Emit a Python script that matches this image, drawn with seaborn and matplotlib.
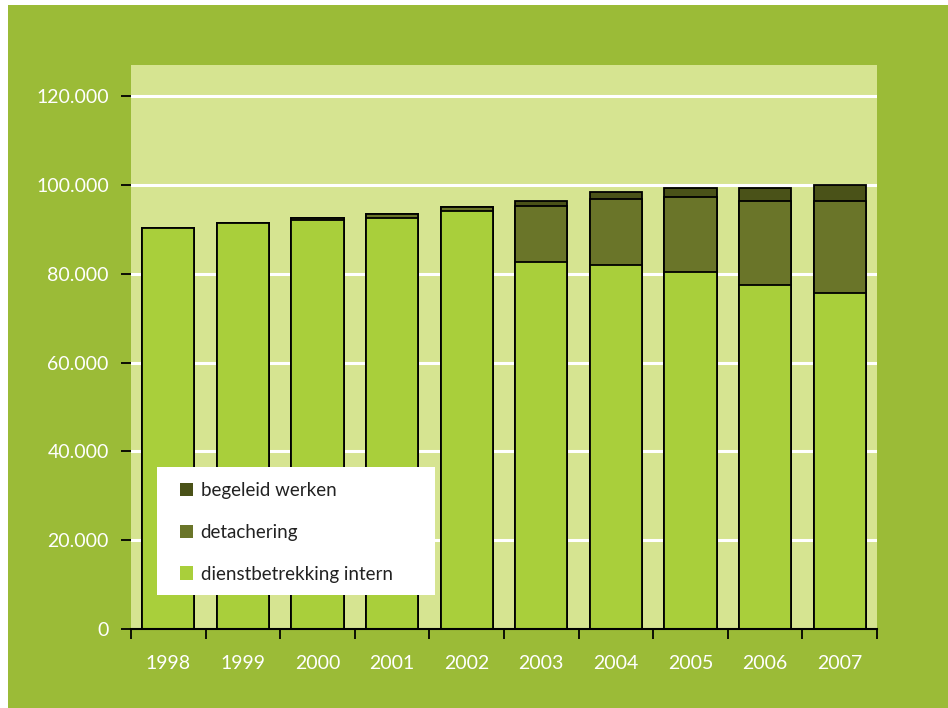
import matplotlib
matplotlib.use("Agg")
import matplotlib.pyplot as plt
import seaborn as sns
import numpy as np
import pandas as pd
from matplotlib.patches import Rectangle, Patch
from matplotlib.ticker import FuncFormatter, FixedLocator

years = ["1998", "1999", "2000", "2001", "2002", "2003", "2004", "2005", "2006", "2007"]
dienstbetrekking = [90300, 91500, 92100, 92450, 94100, 82700, 81900, 80300, 77500, 75650]
detachering = [0, 0, 500, 1100, 950, 12600, 15000, 16950, 18900, 20800]
begeleid = [0, 0, 0, 0, 0, 1150, 1600, 2100, 2950, 3600]
labels = ["begeleid werken", "detachering", "dienstbetrekking intern"]
yticks = [0, 20000, 40000, 60000, 80000, 100000, 120000]

C_BG = "#9bbb37"
C_AX = "#d6e491"
C_DIENST = "#a9cf3b"
C_DETACH = "#6a7529"
C_BEG = "#4a5218"

plt.rcParams["font.family"] = ["Lato", "DejaVu Sans"]

df = pd.DataFrame({"year": years,
                   "dienst": dienstbetrekking,
                   "detach": detachering,
                   "beg": begeleid})
df["mid"] = df["dienst"] + df["detach"]
df["total"] = df["mid"] + df["beg"]

W, H = 948, 708
fig = plt.figure(figsize=(W / 100, H / 100), dpi=100, facecolor="white")
bgp = Rectangle((8 / W, 0), 1 - 8 / W, 1 - 5 / H, transform=fig.transFigure,
                facecolor=C_BG, edgecolor="none", zorder=-10)
fig.patches.append(bgp)

ax = fig.add_axes([131 / W, (H - 629) / H, 746 / W, 564 / H])
ax.set_zorder(1)
ax.set_facecolor(C_AX)

kw = dict(width=0.7, edgecolor="black", linewidth=1.3, saturation=1, ax=ax)
sns.barplot(data=df, x="year", y="total", color=C_BEG, **kw)
sns.barplot(data=df, x="year", y="mid", color=C_DETACH, **kw)
sns.barplot(data=df, x="year", y="dienst", color=C_DIENST, **kw)

ax.set_ylim(0, 127000)
ax.set_xlim(-0.5, len(years) - 0.5)
ax.set_xlabel("")
ax.set_ylabel("")
ax.set_axisbelow(True)
ax.yaxis.grid(True, color="white", linewidth=2.2)
ax.xaxis.grid(False)

ax.set_yticks(yticks)
ax.yaxis.set_major_formatter(FuncFormatter(lambda v, p: f"{int(v):,}".replace(",", ".")))
ax.tick_params(axis="y", direction="out", length=7, width=1.3, color="black",
               labelcolor="white", labelsize=14, pad=9)
ax.tick_params(axis="x", which="major", length=0, labelcolor="white", labelsize=14, pad=19)
ax.xaxis.set_minor_locator(FixedLocator(np.arange(-0.5, len(years), 1.0)))
ax.tick_params(axis="x", which="minor", direction="out", length=7, width=1.3, color="black")

for s in ["top", "right", "left"]:
    ax.spines[s].set_visible(False)
ax.spines["bottom"].set_color("black")
ax.spines["bottom"].set_linewidth(1.5)

# legend box
ax.add_patch(Rectangle((0.0349, 0.0603), 0.3727, 0.227, transform=ax.transAxes,
                       facecolor="white", edgecolor="none", zorder=5))
handles = [Patch(facecolor=C_BEG, edgecolor="none"),
           Patch(facecolor=C_DETACH, edgecolor="none"),
           Patch(facecolor=C_DIENST, edgecolor="none")]
leg = ax.legend(handles, labels, loc="upper left", bbox_to_anchor=(0.0657, 0.2606),
                frameon=False, fontsize=13.5, handlelength=0.7, handleheight=0.7,
                handletextpad=0.4, labelspacing=1.32, borderaxespad=0, borderpad=0)
leg.set_zorder(6)
for t in leg.get_texts():
    t.set_color("#222222")

fig.savefig("out.png", dpi=100, facecolor="white")
